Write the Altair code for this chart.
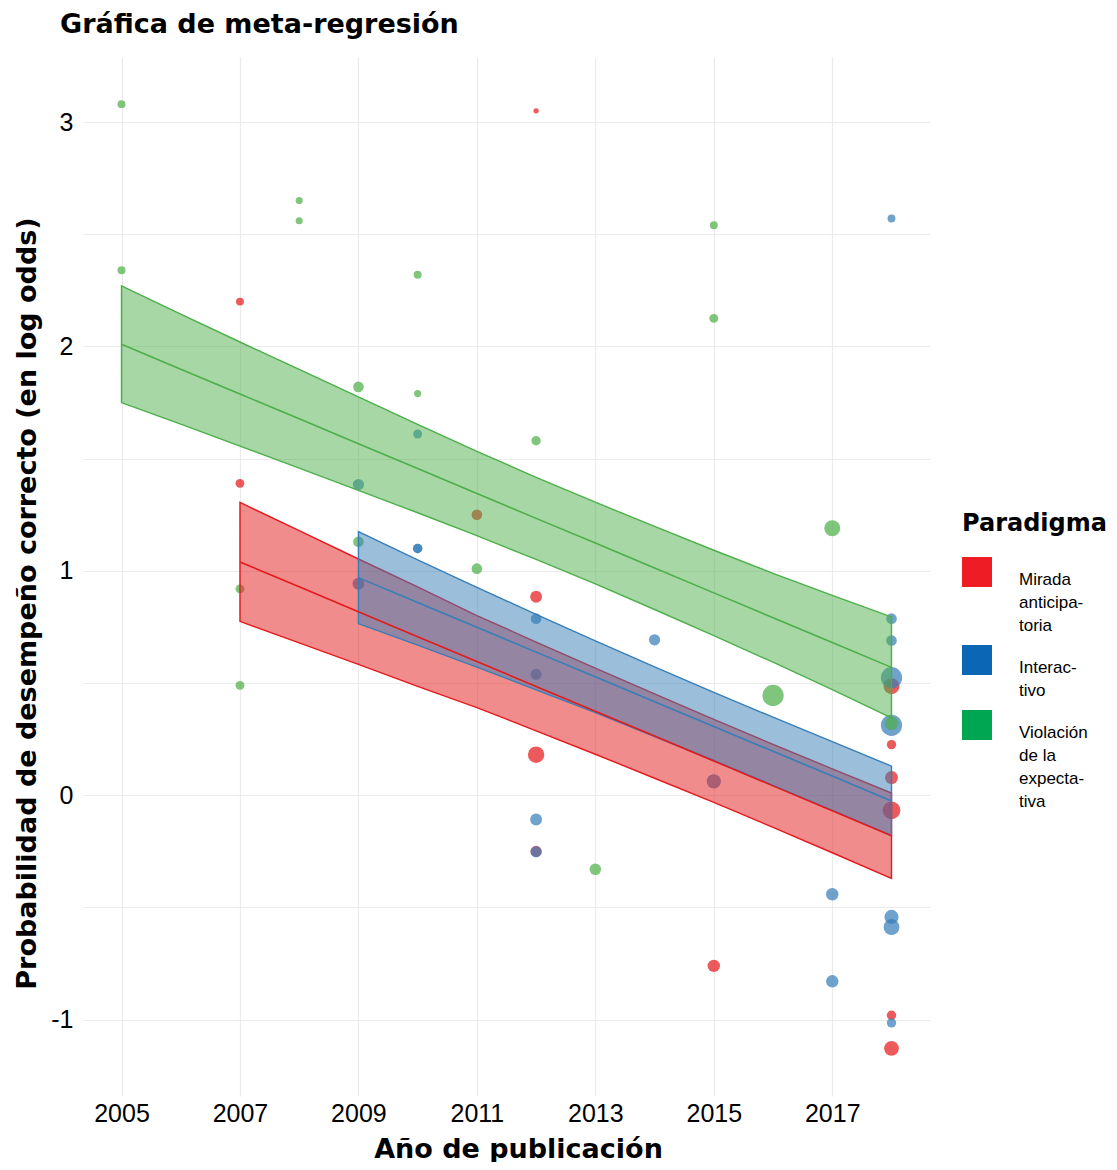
import altair as alt
import pandas as pd

# ---------------- data ----------------
paradigmas = ["Mirada anticipatoria", "Interactivo", "Violación de la expectativa"]
mark_colors = ["#E41A1C", "#377EB8", "#4DAF4A"]
legend_colors = ["#EE1D25", "#0B66B5", "#00A651"]
legend_lines = {
    "Mirada anticipatoria": ["Mirada", "anticipa-", "toria"],
    "Interactivo": ["Interac-", "tivo"],
    "Violación de la expectativa": ["Violación", "de la", "expecta-", "tiva"],
}

# studies: Mirada anticipatoria
m_year = [2007, 2007, 2011, 2012, 2012, 2012, 2012, 2015, 2018, 2018, 2018, 2018, 2018, 2018]
m_lo = [2.20, 1.39, 1.25, 3.05, 0.885, 0.181, -0.25, -0.76, 0.486, 0.226, 0.079, -0.067, -0.98, -1.128]
m_w = [20, 25, 36, 9, 45, 86, 40, 49, 81, 28, 53, 100, 28, 69]

# studies: Interactivo
i_year = [2009, 2009, 2010, 2010, 2010, 2012, 2012, 2012, 2012, 2014, 2015, 2017, 2017,
          2018, 2018, 2018, 2018, 2018, 2018, 2018, 2018]
i_lo = [1.385, 0.943, 1.61, 1.10, 1.10, 0.787, 0.539, -0.108, -0.252, 0.693, 0.062, -0.441, -0.829,
        2.57, 0.787, 0.69, 0.524, 0.312, -0.542, -0.587, -1.014]
i_w = [40, 45, 25, 28, 28, 36, 40, 45, 40, 40, 64, 49, 49,
       20, 36, 36, 144, 144, 64, 81, 28]

# studies: Violación de la expectativa
v_year = [2005, 2005, 2007, 2007, 2008, 2008, 2009, 2009, 2010, 2010, 2011, 2012, 2013,
          2015, 2015, 2016, 2017, 2018]
v_lo = [3.08, 2.34, 0.92, 0.49, 2.65, 2.56, 1.82, 1.13, 2.32, 1.79, 1.01, 1.58, -0.33,
        2.54, 2.125, 0.445, 1.19, 0.32]
v_w = [20, 20, 25, 25, 16, 16, 36, 36, 20, 16, 36, 28, 42,
       20, 25, 144, 81, 56]

# meta-regression predictions (center and 95% CI)
m_band_year = list(range(2007, 2019))
m_center = [1.040, 0.929, 0.818, 0.707, 0.596, 0.485, 0.375, 0.264, 0.153, 0.042, -0.069, -0.180]
m_upper = [1.305, 1.179, 1.053, 0.929, 0.801, 0.683, 0.567, 0.452, 0.338, 0.227, 0.118, 0.010]
m_lower = [0.775, 0.679, 0.583, 0.485, 0.391, 0.287, 0.183, 0.076, -0.032, -0.143, -0.256, -0.370]

i_band_year = list(range(2009, 2019))
i_center = [0.970, 0.859, 0.749, 0.638, 0.528, 0.417, 0.307, 0.196, 0.086, -0.025]
i_upper = [1.175, 1.049, 0.927, 0.806, 0.688, 0.572, 0.459, 0.348, 0.239, 0.130]
i_lower = [0.765, 0.669, 0.571, 0.470, 0.368, 0.262, 0.155, 0.044, -0.067, -0.180]

v_band_year = list(range(2005, 2019))
v_center = [2.010, 1.899, 1.788, 1.678, 1.567, 1.456, 1.345, 1.234, 1.124, 1.013, 0.902, 0.791, 0.681, 0.570]
v_upper = [2.270, 2.144, 2.020, 1.898, 1.775, 1.653, 1.533, 1.417, 1.306, 1.198, 1.092, 0.989, 0.891, 0.795]
v_lower = [1.750, 1.654, 1.556, 1.458, 1.359, 1.259, 1.157, 1.051, 0.942, 0.828, 0.712, 0.593, 0.471, 0.345]

x_ticks = [2005, 2007, 2009, 2011, 2013, 2015, 2017]
y_grid = [-1, -0.5, 0, 0.5, 1, 1.5, 2, 2.5, 3]

# ---------------- tables ----------------
pts = pd.concat([
    pd.DataFrame({"anio": m_year, "lo": m_lo, "peso": m_w, "paradigma": paradigmas[0]}),
    pd.DataFrame({"anio": i_year, "lo": i_lo, "peso": i_w, "paradigma": paradigmas[1]}),
    pd.DataFrame({"anio": v_year, "lo": v_lo, "peso": v_w, "paradigma": paradigmas[2]}),
], ignore_index=True)

bands = pd.concat([
    pd.DataFrame({"anio": m_band_year, "c": m_center, "u": m_upper, "l": m_lower, "paradigma": paradigmas[0]}),
    pd.DataFrame({"anio": i_band_year, "c": i_center, "u": i_upper, "l": i_lower, "paradigma": paradigmas[1]}),
    pd.DataFrame({"anio": v_band_year, "c": v_center, "u": v_upper, "l": v_lower, "paradigma": paradigmas[2]}),
], ignore_index=True)

# ---------------- scales / axes ----------------
xs = alt.Scale(domain=[2004.35, 2018.65], nice=False, zero=False)
ys = alt.Scale(domain=[-1.34, 3.29], nice=False, zero=False)
# mark colours: data-driven (sorted) domain, so it stays apart from the legend's scale
color_by_name = dict(zip(paradigmas, mark_colors))
cs = alt.Scale(range=[color_by_name[p] for p in sorted(paradigmas)])

x_axis = alt.Axis(values=x_ticks, labelExpr="toString(datum.value)", title="Año de publicación",
                  labelFont="Liberation Sans", labelFontSize=25, labelColor="#000000",
                  labelPadding=5, ticks=False, domain=False, grid=True,
                  gridColor="#EBEBEB", gridWidth=1.2,
                  titleFont="DejaVu Sans", titleFontSize=27, titleFontWeight="bold",
                  titleColor="#000000", titlePadding=10, titleX=435)
y_axis = alt.Axis(values=y_grid, labelExpr="datum.value % 1 == 0 ? toString(datum.value) : ''",
                  title="Probabilidad de desempeño correcto (en log odds)",
                  labelFont="Liberation Sans", labelFontSize=25, labelColor="#000000",
                  labelPadding=10, ticks=False, domain=False, grid=True,
                  gridColor="#EBEBEB", gridWidth=1.2,
                  titleFont="DejaVu Sans", titleFontSize=27, titleFontWeight="bold",
                  titleColor="#000000", titlePadding=9, titleY=546)

X = alt.X("anio:Q", scale=xs, axis=x_axis)
C = alt.Color("paradigma:N", scale=cs, legend=None)

points = alt.Chart(pts).mark_circle(opacity=0.72).encode(
    x=X,
    y=alt.Y("lo:Q", scale=ys, axis=y_axis),
    size=alt.Size("peso:Q", scale=alt.Scale(type="linear", domain=[0, 100], range=[0, 314.16]), legend=None),
    color=C,
)

band_layers = []
for p in paradigmas:
    band_layers.append(
        alt.Chart(bands).transform_filter(alt.datum.paradigma == p).mark_area(
            fillOpacity=0.5, strokeWidth=1.4, strokeOpacity=1
        ).encode(
            x=X,
            y=alt.Y("l:Q", scale=ys, axis=y_axis),
            y2="u:Q",
            color=C,
            stroke=alt.Stroke("paradigma:N", scale=cs, legend=None),
        )
    )

lines = alt.Chart(bands).mark_line(strokeWidth=1.6).encode(
    x=X,
    y=alt.Y("c:Q", scale=ys, axis=y_axis),
    color=C,
    detail="paradigma:N",
)

label_expr = " : ".join(
    f"datum.label == '{k}' ? '{'|'.join(v)}'" for k, v in legend_lines.items()
) + " : datum.label"

legend_layer = alt.Chart(pts).transform_filter("false").mark_square(opacity=1).encode(
    x=X,
    y=alt.Y("lo:Q", scale=ys, axis=y_axis),
    fill=alt.Fill("paradigma:N", scale=alt.Scale(domain=paradigmas, range=legend_colors),
                  legend=alt.Legend(
                      title="Paradigma", orient="none", legendX=879, legendY=455,
                      titleFont="DejaVu Sans", titleFontSize=24, titleFontWeight="bold",
                      titleColor="#000000", titlePadding=21,
                      symbolType="square", symbolSize=900, symbolStrokeWidth=0,
                      symbolOpacity=1,
                      labelFont="Liberation Sans", labelFontSize=17, labelColor="#000000",
                      labelOffset=27, labelBaseline="top", labelExpr=label_expr,
                      rowPadding=11, labelLimit=200,
                  )),
)

chart = alt.layer(points, *band_layers, lines, legend_layer).properties(
    width=847, height=1039,
    background="white",
    title=alt.TitleParams("Gráfica de meta-regresión", anchor="start", frame="group",
                          font="DejaVu Sans", fontSize=27, fontWeight="bold",
                          color="#000000", dx=-23, offset=18),
    autosize=alt.AutoSizeParams(type="none"),
    padding={"left": 75, "top": 49, "right": 179, "bottom": 66},
).configure_view(stroke=None)
chart.config.style = {"guide-label": {"lineBreak": "|", "lineHeight": 23}}

chart.save("out.html", embed_options={"renderer": "svg", "actions": False})
